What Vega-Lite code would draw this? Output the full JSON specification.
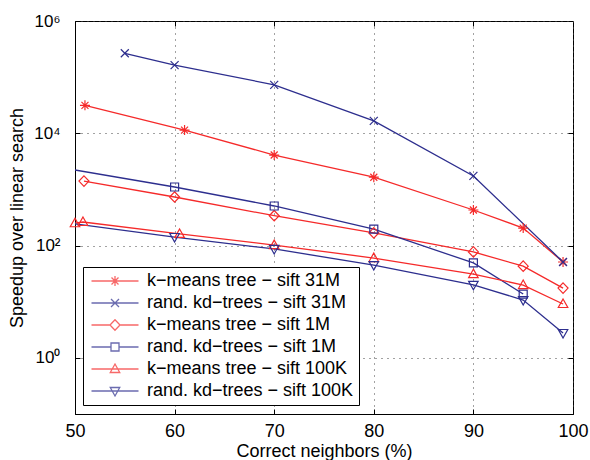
{
  "$schema": "https://vega.github.io/schema/vega-lite/v6.json",
  "width": 498,
  "height": 393,
  "autosize": {"type": "none"},
  "padding": {"left": 75, "top": 21, "right": 17, "bottom": 46},
  "background": "white",
  "config": {
    "view": {"stroke": "black", "strokeWidth": 1},
    "font": "Liberation Sans",
    "axis": {
      "domainColor": "black",
      "tickColor": "black",
      "labelColor": "black",
      "titleColor": "black",
      "labelFont": "Liberation Sans",
      "titleFont": "Liberation Sans",
      "titleFontWeight": "normal",
      "gridColor": "#444444",
      "gridDash": [1, 5],
      "gridWidth": 1,
      "gridOpacity": 1,
      "tickSize": -5,
      "tickWidth": 1
    }
  },
  "datasets": {
    "d": [
      {"series": "k−means tree − sift 31M", "x": 51, "y": 31500},
      {"series": "k−means tree − sift 31M", "x": 61, "y": 11400},
      {"series": "k−means tree − sift 31M", "x": 70, "y": 4100},
      {"series": "k−means tree − sift 31M", "x": 80, "y": 1650},
      {"series": "k−means tree − sift 31M", "x": 90, "y": 430},
      {"series": "k−means tree − sift 31M", "x": 95, "y": 205},
      {"series": "k−means tree − sift 31M", "x": 99, "y": 51},
      {"series": "rand. kd−trees − sift 31M", "x": 55, "y": 266000},
      {"series": "rand. kd−trees − sift 31M", "x": 60, "y": 164000},
      {"series": "rand. kd−trees − sift 31M", "x": 70, "y": 73000},
      {"series": "rand. kd−trees − sift 31M", "x": 80, "y": 16600},
      {"series": "rand. kd−trees − sift 31M", "x": 90, "y": 1740},
      {"series": "rand. kd−trees − sift 31M", "x": 99, "y": 51},
      {"series": "k−means tree − sift 1M", "x": 50.9, "y": 1410},
      {"series": "k−means tree − sift 1M", "x": 60, "y": 733},
      {"series": "k−means tree − sift 1M", "x": 70, "y": 340},
      {"series": "k−means tree − sift 1M", "x": 80, "y": 168},
      {"series": "k−means tree − sift 1M", "x": 90, "y": 77},
      {"series": "k−means tree − sift 1M", "x": 95, "y": 43},
      {"series": "k−means tree − sift 1M", "x": 99, "y": 17.5},
      {"series": "rand. kd−trees − sift 1M", "x": 48, "y": 2550},
      {"series": "rand. kd−trees − sift 1M", "x": 60, "y": 1105},
      {"series": "rand. kd−trees − sift 1M", "x": 70, "y": 507},
      {"series": "rand. kd−trees − sift 1M", "x": 80, "y": 197},
      {"series": "rand. kd−trees − sift 1M", "x": 90, "y": 49},
      {"series": "rand. kd−trees − sift 1M", "x": 95, "y": 13.7},
      {"series": "k−means tree − sift 100K", "x": 50, "y": 250},
      {"series": "k−means tree − sift 100K", "x": 50.8, "y": 263},
      {"series": "k−means tree − sift 100K", "x": 60.5, "y": 161},
      {"series": "k−means tree − sift 100K", "x": 70, "y": 102},
      {"series": "k−means tree − sift 100K", "x": 80, "y": 60},
      {"series": "k−means tree − sift 100K", "x": 90, "y": 31},
      {"series": "k−means tree − sift 100K", "x": 95, "y": 19.8},
      {"series": "k−means tree − sift 100K", "x": 99, "y": 9.1},
      {"series": "rand. kd−trees − sift 100K", "x": 48, "y": 270},
      {"series": "rand. kd−trees − sift 100K", "x": 60, "y": 142},
      {"series": "rand. kd−trees − sift 100K", "x": 70, "y": 87},
      {"series": "rand. kd−trees − sift 100K", "x": 80, "y": 45},
      {"series": "rand. kd−trees − sift 100K", "x": 90, "y": 20},
      {"series": "rand. kd−trees − sift 100K", "x": 95, "y": 10.7},
      {"series": "rand. kd−trees − sift 100K", "x": 99, "y": 2.77}
    ]
  },
  "layer": [
    {
      "data": {"name": "d"},
      "mark": {"type": "line", "clip": true, "strokeWidth": 1.3},
      "encoding": {
        "x": {
          "field": "x", "type": "quantitative",
          "scale": {"domain": [50, 100], "nice": false, "zero": false},
          "axis": {
            "values": [50, 60, 70, 80, 90, 100],
            "title": "Correct neighbors (%)",
            "labelFontSize": 18, "labelPadding": 13, "labelFlush": false,
            "titleFontSize": 18, "titleX": 249, "titleY": 42, "titleBaseline": "alphabetic",
            "grid": true
          }
        },
        "y": {
          "field": "y", "type": "quantitative",
          "scale": {"type": "log", "domain": [0.1, 1000000], "nice": false},
          "axis": {
            "values": [1, 100, 10000, 1000000],
            "labelExpr": "datum.value >= 999999 ? '10⁶' : datum.value >= 9999 ? '10⁴' : datum.value >= 99 ? '10²' : '10⁰'",
            "title": "Speedup over linear search",
            "labelFontSize": 17, "labelPadding": 20, "labelFlush": false,
            "titleFontSize": 18, "titleX": -58, "titleY": 196.5, "titleBaseline": "middle",
            "grid": true
          }
        },
        "color": {
          "field": "series", "type": "nominal",
          "scale": {
            "domain": ["k−means tree − sift 31M", "rand. kd−trees − sift 31M", "k−means tree − sift 1M", "rand. kd−trees − sift 1M", "k−means tree − sift 100K", "rand. kd−trees − sift 100K"],
            "range": ["#f52a2a", "#2d2e8e", "#f52a2a", "#2d2e8e", "#f52a2a", "#2d2e8e"]
          },
          "legend": null
        }
      }
    },
    {
      "data": {"name": "d"},
      "transform": [{"filter": "datum.x >= 50"}],
      "mark": {"type": "point", "filled": false, "strokeWidth": 1.2, "size": 100, "opacity": 1},
      "encoding": {
        "x": {"field": "x", "type": "quantitative", "axis": null},
        "y": {"field": "y", "type": "quantitative", "axis": null},
        "color": {
          "field": "series", "type": "nominal",
          "scale": {
            "domain": ["k−means tree − sift 31M", "rand. kd−trees − sift 31M", "k−means tree − sift 1M", "rand. kd−trees − sift 1M", "k−means tree − sift 100K", "rand. kd−trees − sift 100K"],
            "range": ["#f52a2a", "#2d2e8e", "#f52a2a", "#2d2e8e", "#f52a2a", "#2d2e8e"]
          },
          "legend": null
        },
        "shape": {
          "field": "series", "type": "nominal",
          "scale": {
            "domain": ["k−means tree − sift 31M", "rand. kd−trees − sift 31M", "k−means tree − sift 1M", "rand. kd−trees − sift 1M", "k−means tree − sift 100K", "rand. kd−trees − sift 100K"],
            "range": [
              "M0,-1V1M-1,0H1M-0.7,-0.7L0.7,0.7M-0.7,0.7L0.7,-0.7",
              "M-0.8,-0.8L0.8,0.8M-0.8,0.8L0.8,-0.8",
              "M0,-1.05L1,0L0,1.05L-1,0Z",
              "M-0.8,-0.8H0.8V0.8H-0.8Z",
              "M0,-1L0.95,0.7H-0.95Z",
              "M0,1L0.95,-0.7H-0.95Z"
            ]
          },
          "legend": null
        }
      }
    },
    {
      "data": {"name": "d"},
      "transform": [{"filter": "false"}],
      "mark": {"type": "point", "filled": false, "strokeWidth": 1.3, "size": 100},
      "encoding": {
        "x": {"field": "x", "type": "quantitative", "axis": null},
        "y": {"field": "y", "type": "quantitative", "axis": null},
        "color": {
          "field": "series", "type": "nominal",
          "scale": {
            "domain": ["k−means tree − sift 31M", "rand. kd−trees − sift 31M", "k−means tree − sift 1M", "rand. kd−trees − sift 1M", "k−means tree − sift 100K", "rand. kd−trees − sift 100K"],
            "range": ["#f52a2a", "#2d2e8e", "#f52a2a", "#2d2e8e", "#f52a2a", "#2d2e8e"]
          },
          "legend": {
            "orient": "none", "legendX": 8, "legendY": 246, "title": null,
            "padding": 5, "strokeColor": "black", "fillColor": "white",
            "labelFontSize": 18, "labelFont": "Liberation Sans", "labelColor": "black", "labelLimit": 400,
            "symbolSize": 100, "symbolStrokeWidth": 1.3, "symbolOffset": 18, "labelOffset": 23, "rowPadding": 4
          }
        },
        "shape": {
          "field": "series", "type": "nominal",
          "scale": {
            "domain": ["k−means tree − sift 31M", "rand. kd−trees − sift 31M", "k−means tree − sift 1M", "rand. kd−trees − sift 1M", "k−means tree − sift 100K", "rand. kd−trees − sift 100K"],
            "range": [
              "M-4.7,0H4.7M0,-1V1M-1,0H1M-0.7,-0.7L0.7,0.7M-0.7,0.7L0.7,-0.7",
              "M-4.7,0H4.7M-0.8,-0.8L0.8,0.8M-0.8,0.8L0.8,-0.8",
              "M-4.7,0H-1M1,0H4.7M0,-1.05L1,0L0,1.05L-1,0Z",
              "M-4.7,0H-0.8M0.8,0H4.7M-0.8,-0.8H0.8V0.8H-0.8Z",
              "M-4.7,0H4.7M0,-1L0.95,0.7H-0.95Z",
              "M-4.7,0H4.7M0,1L0.95,-0.7H-0.95Z"
            ]
          },
          "legend": {
            "orient": "none", "legendX": 8, "legendY": 246, "title": null,
            "padding": 5, "strokeColor": "black", "fillColor": "white",
            "labelFontSize": 18, "labelFont": "Liberation Sans", "labelColor": "black", "labelLimit": 400,
            "symbolSize": 100, "symbolStrokeWidth": 1.3, "symbolOffset": 18, "labelOffset": 23, "rowPadding": 4
          }
        }
      }
    },
    {
      "data": {"name": "d"},
      "transform": [{"filter": "false"}],
      "mark": {"type": "point"},
      "encoding": {
        "x": {"field": "x", "type": "quantitative", "axis": {"orient": "top", "values": [60, 70, 80, 90], "labels": false, "domain": false, "grid": false, "title": null}},
        "y": {"field": "y", "type": "quantitative", "axis": {"orient": "right", "values": [1, 100, 10000], "labels": false, "domain": false, "grid": false, "title": null}}
      }
    }
  ],
  "resolve": {
    "scale": {"color": "independent", "shape": "independent"},
    "axis": {"x": "independent", "y": "independent"}
  }
}
